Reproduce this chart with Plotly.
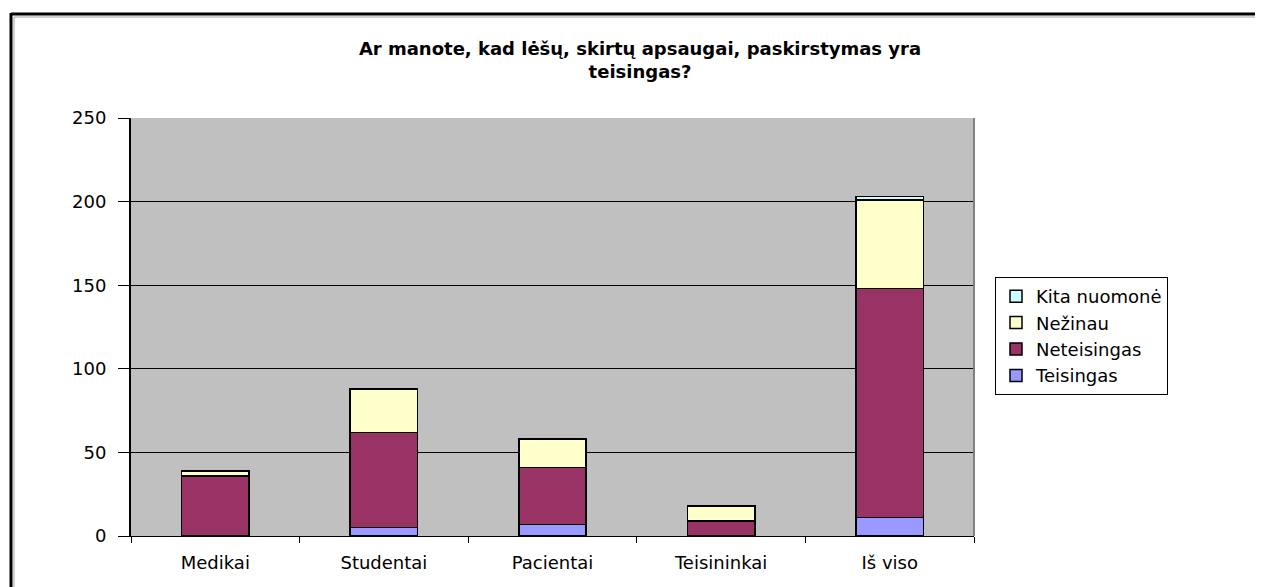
import plotly.graph_objects as go

categories = ["Medikai", "Studentai", "Pacientai", "Teisininkai", "Iš viso"]
teisingas = [0, 5, 7, 0, 11]
neteisingas = [36, 57, 34, 9, 137]
nezinau = [3, 26, 17, 9, 53]
kita = [0, 0, 0, 0, 2]
y_ticks = [0, 50, 100, 150, 200, 250]

series = [
    ("Teisingas", teisingas, "#9999FF"),
    ("Neteisingas", neteisingas, "#993366"),
    ("Nežinau", nezinau, "#FFFFCC"),
    ("Kita nuomonė", kita, "#CCFFFF"),
]

fig = go.Figure()
for name, vals, color in series:
    fig.add_trace(go.Bar(
        x=categories, y=vals, name=name,
        marker=dict(color=color, line=dict(color="black", width=1.5)),
        width=0.4,
    ))

OFF = 8  # page body margin
W, H = 1263 - OFF, 587 - OFF
# plot area in screen pixels
L, R, T, B = 131, 974, 118, 536

def px(x):
    return (x - L) / (R - L)

def py(y):
    return (B - y) / (B - T)

FONT = "DejaVu Sans, Liberation Sans, Arial"

fig.update_layout(
    width=W, height=H,
    margin=dict(l=L - OFF, r=W - (R - OFF), t=T - OFF, b=H - (B - OFF), pad=0),
    barmode="stack",
    paper_bgcolor="white",
    plot_bgcolor="#C0C0C0",
    font=dict(family=FONT, color="black", size=17),
    title=dict(
        text="<b>Ar manote, kad lėšų, skirtų apsaugai, paskirstymas yra<br>teisingas?</b>",
        xref="container", x=(640 - OFF) / W, xanchor="center",
        yref="container", y=1 - (55 - OFF) / H, yanchor="top",
        font=dict(size=18, family=FONT),
    ),
    legend=dict(
        traceorder="reversed",
        x=px(995), xanchor="left", y=py(277), yanchor="top",
        bgcolor="white", bordercolor="black", borderwidth=1,
        font=dict(size=18, family=FONT), itemwidth=30, tracegroupgap=0,
        entrywidth=215, entrywidthmode="pixels",
    ),
    showlegend=True,
)
fig.update_yaxes(
    range=[0, 250], tickvals=y_ticks, showgrid=True, gridcolor="black", gridwidth=1,
    showline=True, linecolor="black", linewidth=2, ticks="outside", ticklen=11,
    tickcolor="black", zeroline=False, tickfont=dict(size=18, family=FONT),
    ticklabelstandoff=8,
)
fig.update_xaxes(
    showline=True, linecolor="black", linewidth=1, ticks="outside", ticklen=6,
    tickson="boundaries", tickcolor="black", tickfont=dict(size=18, family=FONT),
    ticklabelstandoff=10,
)

shapes = [
    # outer frame
    dict(type="line", xref="paper", yref="paper", x0=px(11), x1=px(1275), y0=py(14), y1=py(14),
         line=dict(color="black", width=3)),
    dict(type="line", xref="paper", yref="paper", x0=px(11), x1=px(11), y0=py(13), y1=py(600),
         line=dict(color="black", width=3)),
    dict(type="line", xref="paper", yref="paper", x0=px(14), x1=px(1275), y0=py(17), y1=py(17),
         line=dict(color="#A0A0A0", width=1)),
    dict(type="line", xref="paper", yref="paper", x0=px(14), x1=px(14), y0=py(17), y1=py(600),
         line=dict(color="#A0A0A0", width=1)),
    # right border of plot area
    dict(type="line", xref="paper", yref="paper", x0=1, x1=1, y0=0, y1=1,
         line=dict(color="#808080", width=2)),
]
fig.update_layout(shapes=shapes)

fig.write_html("out.html")
